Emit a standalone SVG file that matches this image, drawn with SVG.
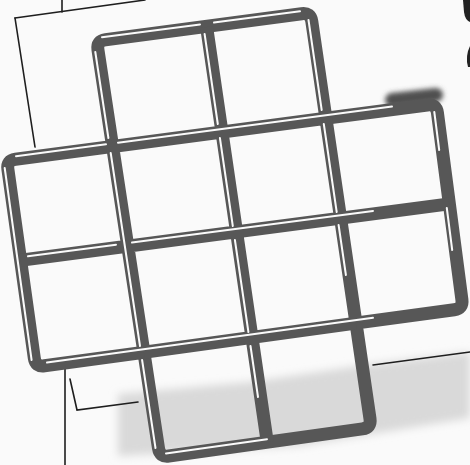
<svg xmlns="http://www.w3.org/2000/svg" width="470" height="465" viewBox="0 0 470 465">
<defs>
<style>
.band{fill:none;stroke:#575757;stroke-width:13;stroke-linecap:butt;stroke-linejoin:miter}
.hl{fill:none;stroke:#fafafa;stroke-width:2;stroke-linecap:round}
.paper{fill:none;stroke:#1e1e1e;stroke-width:1.6;stroke-linecap:round;stroke-linejoin:miter}
.mark{fill:#222}
</style>
<filter id="blur" filterUnits="userSpaceOnUse" x="80" y="320" width="420" height="160"><feGaussianBlur stdDeviation="4"/></filter>
<filter id="blur2" filterUnits="userSpaceOnUse" x="370" y="75" width="90" height="45"><feGaussianBlur stdDeviation="2.5"/></filter>
</defs>
<rect width="470" height="465" fill="#fafafa"/>
<g id="smudges">
<polygon points="118,394 250,382 372,364 470,352 470,418 300,446 118,456" fill="#d9d9d9" filter="url(#blur)"/>
</g>
<g id="paper">
<path class="paper" d="M62,0 L62,12"/>
<path class="paper" d="M15,18 L145,0"/>
<path class="paper" d="M15,18 L35,147"/>
<path class="paper" d="M65,367 L65,465"/>
<path class="paper" d="M70,379 L77,410 L138,402"/>
<path class="paper" d="M373,365 L470,352"/>
</g>
<g id="grid">
<path id="corner-smudge" d="M392,100 L436,95" stroke="#4f4f4f" stroke-width="14" stroke-linecap="round" fill="none" filter="url(#blur2)"/>
<path id="outline" class="band" d="M105.5,39.8 L301.6,13.7 Q310.5,12.5 311.8,21.4 L325.9,118.3 L427.3,105 Q436.2,103.8 437.4,112.7 L461.9,299.6 Q463.1,308.5 454.2,309.7 L356,323.1 L370,418.8 Q371.3,427.7 362.4,428.9 L168.8,456 Q159.9,457.2 158.5,448.3 L143.9,352.2 L44.5,365.8 Q35.6,367 34.3,358.1 L7.9,169.3 Q6.6,160.4 15.5,159.2 L112.6,146.5 L97.95,49.9 Q96.6,41 105.5,39.8 Z"/>
<path id="inner-lines" class="band" d="M20.6,260.3 L449.2,203.9 M112.6,146.5 L143.9,352.2 M206.6,27 L267.3,442.2 M325.9,118.3 L356,323.1 M112.6,146.5 L325.9,118.3 M143.9,352.2 L356,323.1"/>
</g>
<g id="highlights">
<path class="hl" d="M102,37.2 L200,24.4 M214,22.6 L300,11.3"/>
<path class="hl" d="M95.3,52 L108.4,138"/>
<path class="hl" d="M204.6,34 L217.8,124"/>
<path class="hl" d="M308.5,20 L321.7,110"/>
<path class="hl" d="M16,156.2 L106,144.3 M118,142.7 L392,106.6"/>
<path class="hl" d="M4.7,168 L31.6,360"/>
<path class="hl" d="M110.7,153 L140,346 M142.1,360 L155.5,448"/>
<path class="hl" d="M219.9,138 L232.8,226 M234.9,240 L248.4,332 M250.5,346 L258,397"/>
<path class="hl" d="M323.8,124 L336.7,212 M338.6,225 L345.9,275"/>
<path class="hl" d="M434.3,112 L439.2,150 M446.8,208 L452.2,250"/>
<path class="hl" d="M28,256.3 L116,244.7 M132,242.6 L373,210.9"/>
<path class="hl" d="M47,362.5 L373,317.8"/>
<path class="hl" d="M166,453.4 L267,439.2"/>
</g>
<g id="edge-marks">
<path class="mark" d="M463,0 L470,0 L470,22 Q465,20 464,12 Z"/>
<path class="mark" d="M470,46 Q465,56 468,67 L470,67 Z"/>
</g>
</svg>
